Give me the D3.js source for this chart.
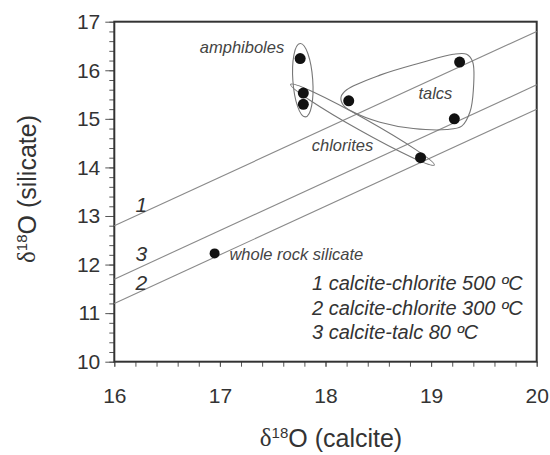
<!DOCTYPE html>
<html>
<head>
<meta charset="utf-8">
<script src="https://cdn.jsdelivr.net/npm/d3@7"></script>
<style>
  body { margin: 0; background: #fff; }
  svg { font-family: "Liberation Sans", Arial, sans-serif; }
  .tick text { fill: #333; }
</style>
</head>
<body>
<div id="chart"></div>
<script>
// samples: d18O of calcite vs d18O of the silicate
const calciteValues = [17.76, 17.79, 17.79, 18.22, 18.90, 19.27, 19.22, 16.95];
const silicateValues = [16.24, 15.53, 15.30, 15.37, 14.20, 16.17, 15.00, 12.23];

// equilibrium lines, value at x = 16 and at x = 20
const lineIds = ['1', '2', '3'];
const lineStart = [12.8, 11.2, 11.7];
const lineEnd = [16.8, 15.2, 15.7];
const legendLabels = ['1 calcite-chlorite 500 ºC', '2 calcite-chlorite 300 ºC', '3 calcite-talc 80 ºC'];

const xTicks = [16, 17, 18, 19, 20];
const yTicks = [10, 11, 12, 13, 14, 15, 16, 17];

// group envelopes (data coords)
const amphiboleTips = [[17.76, 16.55], [17.81, 15.04]];
const chloriteTips = [[17.67, 15.71], [19.03, 14.05]];
const talcOutline = [
  [18.147, 15.45], [18.201, 15.60], [18.516, 15.90], [18.895, 16.15], [19.210, 16.33],
  [19.337, 16.33], [19.394, 16.17], [19.400, 15.59], [19.368, 15.14], [19.290, 14.85],
  [19.148, 14.78], [18.831, 14.80], [18.516, 14.93], [18.263, 15.14], [18.169, 15.28]
];

const width = 550;
const height = 455;
const margin = { left: 114.3, right: 536.7, top: 21.7, bottom: 361.7 };

const svg = d3.select('#chart')
  .append('svg')
  .attr('width', width)
  .attr('height', height);

const x = d3.scaleLinear().domain([16, 20]).range([margin.left, margin.right]);
const y = d3.scaleLinear().domain([10, 17]).range([margin.bottom, margin.top]);

// minor ticks
svg.append('g')
  .attr('transform', `translate(0,${margin.bottom})`)
  .call(d3.axisBottom(x).tickValues(d3.range(16, 20.01, 0.2)).tickSize(5).tickFormat(''))
  .call(g => g.select('.domain').remove())
  .selectAll('line').attr('stroke', '#555');

svg.append('g')
  .attr('transform', `translate(${margin.left},0)`)
  .call(d3.axisLeft(y).tickValues(d3.range(10, 17.01, 0.2)).tickSize(5).tickFormat(''))
  .call(g => g.select('.domain').remove())
  .selectAll('line').attr('stroke', '#555');

// major ticks + labels
svg.append('g')
  .attr('transform', `translate(0,${margin.bottom})`)
  .call(d3.axisBottom(x).tickValues(xTicks).tickSize(5).tickPadding(21).tickFormat(d3.format('d')))
  .call(g => g.select('.domain').remove())
  .call(g => g.selectAll('line').attr('stroke', '#555'))
  .selectAll('text')
  .style('font-size', '21px');

svg.append('g')
  .attr('transform', `translate(${margin.left},0)`)
  .call(d3.axisLeft(y).tickValues(yTicks).tickSize(9).tickPadding(5).tickFormat(d3.format('d')))
  .call(g => g.select('.domain').remove())
  .call(g => g.selectAll('line').attr('stroke', '#555'))
  .selectAll('text')
  .style('font-size', '21px');

// frame
svg.append('rect')
  .attr('x', margin.left)
  .attr('y', margin.top)
  .attr('width', margin.right - margin.left)
  .attr('height', margin.bottom - margin.top)
  .attr('fill', 'none')
  .attr('stroke', '#333')
  .attr('stroke-width', 2);

// equilibrium lines
svg.selectAll('.eqline')
  .data(lineIds)
  .enter()
  .append('line')
  .attr('class', 'eqline')
  .attr('x1', x(16))
  .attr('x2', x(20))
  .attr('y1', (d, i) => y(lineStart[i]))
  .attr('y2', (d, i) => y(lineEnd[i]))
  .attr('stroke', '#8a8a8a')
  .attr('stroke-width', 1.1);

// line numbers
const lineLabelPos = { '1': [16.2, 13.09], '3': [16.2, 12.08], '2': [16.2, 11.48] };
svg.selectAll('.linenum')
  .data(lineIds)
  .enter()
  .append('text')
  .attr('x', d => x(lineLabelPos[d][0]))
  .attr('y', d => y(lineLabelPos[d][1]))
  .style('font-size', '21px')
  .style('font-style', 'italic')
  .attr('fill', '#333')
  .text(d => d);

// envelopes
function drawEllipse(tips, ratio) {
  const p1 = [x(tips[0][0]), y(tips[0][1])];
  const p2 = [x(tips[1][0]), y(tips[1][1])];
  const cx = (p1[0] + p2[0]) / 2, cy = (p1[1] + p2[1]) / 2;
  const a = Math.hypot(p2[0] - p1[0], p2[1] - p1[1]) / 2;
  const angle = Math.atan2(p2[1] - p1[1], p2[0] - p1[0]) * 180 / Math.PI;
  svg.append('ellipse')
    .attr('cx', cx)
    .attr('cy', cy)
    .attr('rx', a)
    .attr('ry', a * ratio)
    .attr('transform', `rotate(${angle},${cx},${cy})`)
    .attr('fill', 'none')
    .attr('stroke', '#777')
    .attr('stroke-width', 1.1);
}
drawEllipse(amphiboleTips, 0.27);
drawEllipse(chloriteTips, 0.075);

svg.append('path')
  .datum(talcOutline)
  .attr('d', d3.line().x(d => x(d[0])).y(d => y(d[1])).curve(d3.curveCatmullRomClosed))
  .attr('fill', 'none')
  .attr('stroke', '#777')
  .attr('stroke-width', 1.1);

// samples
svg.selectAll('.sample')
  .data(calciteValues)
  .enter()
  .append('circle')
  .attr('class', 'sample')
  .attr('cx', d => x(d))
  .attr('cy', (d, i) => y(silicateValues[i]))
  .attr('r', (d, i) => i === calciteValues.length - 1 ? 5 : 5.5)
  .attr('fill', '#111');

// group labels
const groupLabels = [
  { text: 'amphiboles', pos: [16.81, 16.35] },
  { text: 'talcs', pos: [18.88, 15.40] },
  { text: 'chlorites', pos: [17.87, 14.33] },
  { text: 'whole rock silicate', pos: [17.09, 12.09] }
];
svg.selectAll('.glabel')
  .data(groupLabels)
  .enter()
  .append('text')
  .attr('x', d => x(d.pos[0]))
  .attr('y', d => y(d.pos[1]))
  .style('font-size', '16.5px')
  .style('font-style', 'italic')
  .attr('fill', '#444')
  .text(d => d.text);

// legend
svg.selectAll('.legend')
  .data(legendLabels)
  .enter()
  .append('text')
  .attr('x', 312)
  .attr('y', (d, i) => 290 + i * 24.5)
  .style('font-size', '20px')
  .style('font-style', 'italic')
  .attr('fill', '#333')
  .text(d => d);

// axis titles
function axisTitle(g, name) {
  g.append('tspan').style('font-family', '"Liberation Serif", serif').text('δ');
  g.append('tspan').style('font-size', '15px').attr('dy', '-0.55em').text('18');
  g.append('tspan').attr('dy', '0.37em').text('O (' + name + ')');
}

svg.append('text')
  .attr('x', 331)
  .attr('y', 446)
  .attr('text-anchor', 'middle')
  .style('font-size', '25px')
  .attr('fill', '#333')
  .call(axisTitle, 'calcite');

svg.append('text')
  .attr('transform', 'translate(35,189) rotate(-90)')
  .attr('text-anchor', 'middle')
  .style('font-size', '25px')
  .attr('fill', '#333')
  .call(axisTitle, 'silicate');
</script>
</body>
</html>
